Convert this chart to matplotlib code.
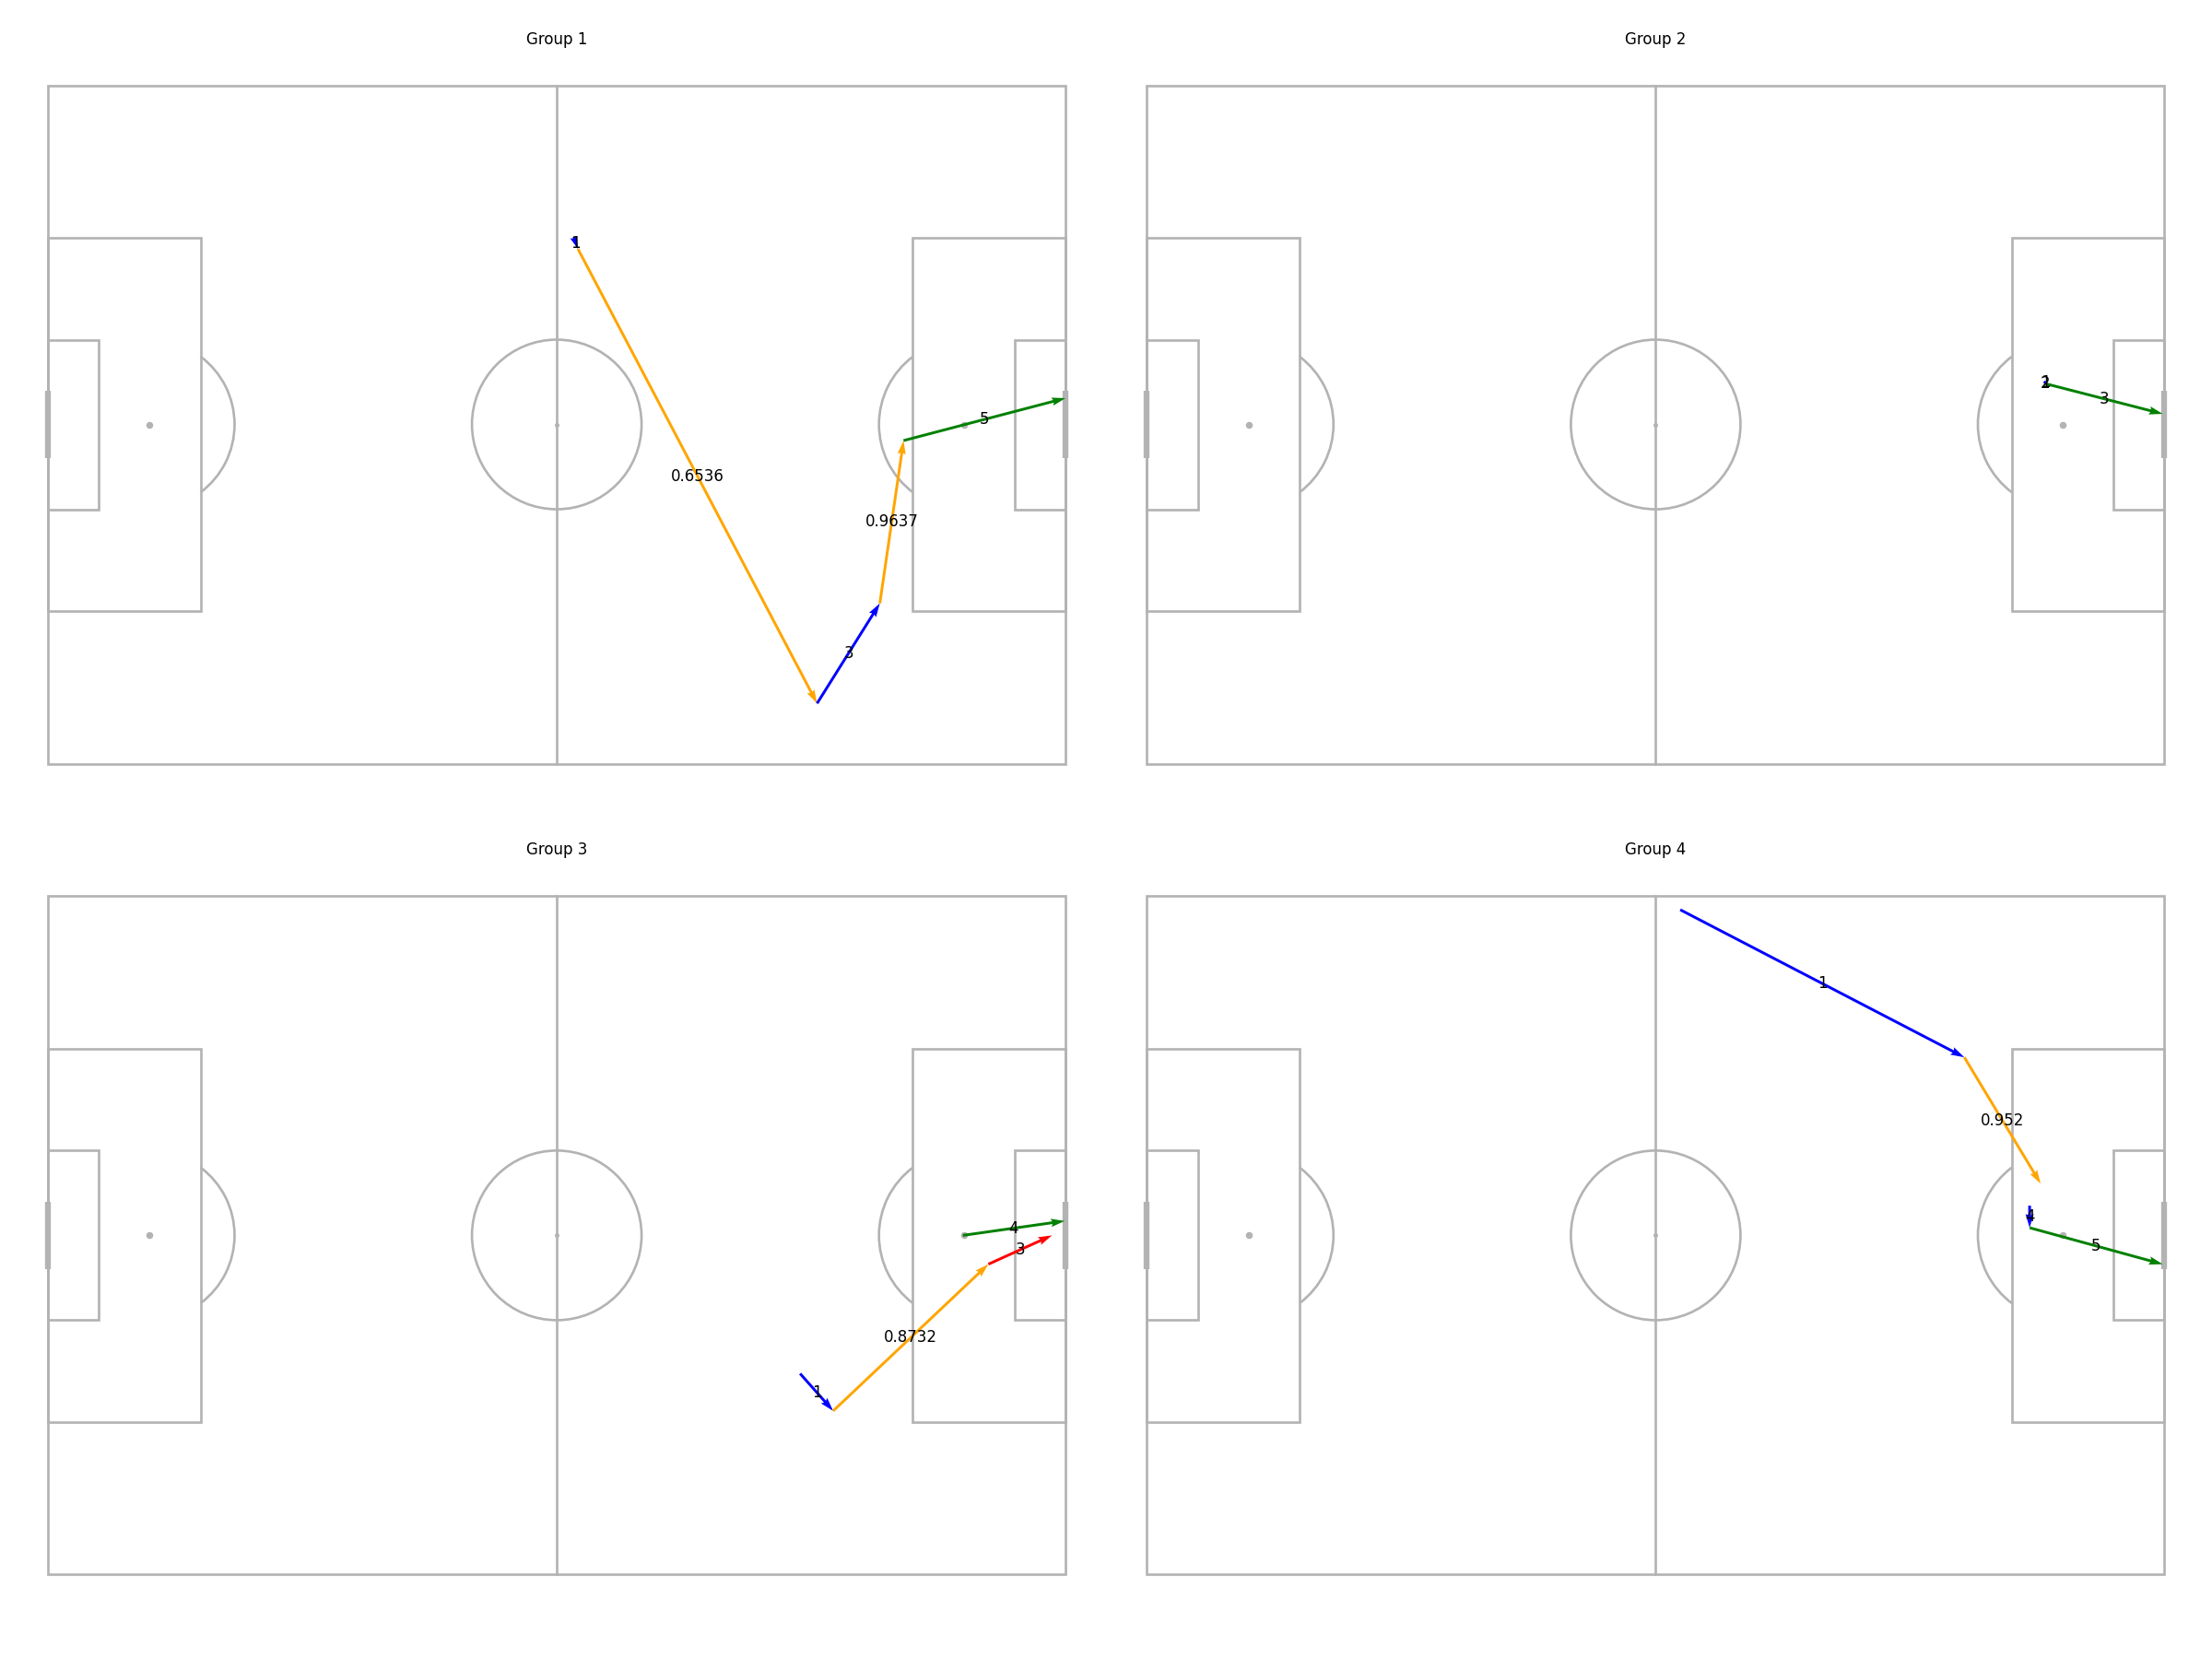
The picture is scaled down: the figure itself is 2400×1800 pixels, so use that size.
import matplotlib.pyplot as plt
from matplotlib.patches import Rectangle, Circle, Arc

# pitch size (statsbomb style, y runs top to bottom)
PITCH_L = 120
PITCH_W = 80
LINE_COLOR = "#b3b3b3"

KIND_COLORS = {"pass": "blue", "carry": "orange", "shot": "green", "dribble": "red"}

# Group 1
g1_start_x = [62.0, 62.5, 90.7, 98.1, 100.9]
g1_start_y = [17.9, 19.3, 72.9, 61.1, 41.9]
g1_end_x = [62.5, 90.7, 98.1, 100.9, 120.0]
g1_end_y = [19.3, 72.9, 61.1, 41.9, 36.9]
g1_kind = ["pass", "carry", "pass", "carry", "shot"]
g1_label = ["1", "0.6536", "3", "0.9637", "5"]

# Group 2
g2_start_x = [105.9, 105.9, 106.0]
g2_start_y = [35.0, 35.1, 35.2]
g2_end_x = [106.0, 106.0, 119.8]
g2_end_y = [35.2, 35.2, 38.75]
g2_kind = ["pass", "pass", "shot"]
g2_label = ["1", "2", "3"]

# Group 3
g3_start_x = [88.7, 92.6, 110.9, 107.9]
g3_start_y = [56.3, 60.7, 43.4, 40.0]
g3_end_x = [92.6, 110.9, 118.4, 119.9]
g3_end_y = [60.7, 43.4, 40.0, 38.3]
g3_kind = ["pass", "carry", "dribble", "shot"]
g3_label = ["1", "0.8732", "3", "4"]

# Group 4
g4_start_x = [62.9, 96.4, 104.1, 104.1]
g4_start_y = [1.6, 19.0, 36.5, 39.1]
g4_end_x = [96.4, 105.4, 104.1, 119.8]
g4_end_y = [19.0, 33.9, 39.1, 43.4]
g4_kind = ["pass", "carry", "pass", "shot"]
g4_label = ["1", "0.952", "4", "5"]

groups = [
    ("Group 1", g1_start_x, g1_start_y, g1_end_x, g1_end_y, g1_kind, g1_label),
    ("Group 2", g2_start_x, g2_start_y, g2_end_x, g2_end_y, g2_kind, g2_label),
    ("Group 3", g3_start_x, g3_start_y, g3_end_x, g3_end_y, g3_kind, g3_label),
    ("Group 4", g4_start_x, g4_start_y, g4_end_x, g4_end_y, g4_kind, g4_label),
]


def draw_pitch(ax):
    kw = dict(fill=False, edgecolor=LINE_COLOR, lw=1.6, clip_on=False, zorder=1)
    ax.add_patch(Rectangle((0, 0), PITCH_L, PITCH_W, **kw))
    ax.plot([60, 60], [0, PITCH_W], color=LINE_COLOR, lw=1.6, zorder=1, clip_on=False)
    ax.add_patch(Circle((60, 40), 10, **kw))
    ax.plot(60, 40, "o", color=LINE_COLOR, ms=2, zorder=1)
    # boxes
    ax.add_patch(Rectangle((0, 18), 18, 44, **kw))
    ax.add_patch(Rectangle((PITCH_L - 18, 18), 18, 44, **kw))
    ax.add_patch(Rectangle((0, 30), 6, 20, **kw))
    ax.add_patch(Rectangle((PITCH_L - 6, 30), 6, 20, **kw))
    # spots and arcs
    ax.plot([12, 108], [40, 40], "o", color=LINE_COLOR, ms=3.5, lw=0, zorder=1)
    ax.add_patch(Arc((12, 40), 20, 20, theta1=-53.13, theta2=53.13,
                     color=LINE_COLOR, lw=1.6, zorder=1))
    ax.add_patch(Arc((108, 40), 20, 20, theta1=126.87, theta2=233.13,
                     color=LINE_COLOR, lw=1.6, zorder=1))
    # goals
    ax.plot([0, 0], [36, 44], color=LINE_COLOR, lw=3.8, zorder=1, clip_on=False,
            solid_capstyle="butt")
    ax.plot([PITCH_L, PITCH_L], [36, 44], color=LINE_COLOR, lw=3.8, zorder=1,
            clip_on=False, solid_capstyle="butt")
    ax.set_xlim(0, PITCH_L)
    ax.set_ylim(PITCH_W, 0)
    ax.axis("off")


fig = plt.figure(figsize=(20, 15), dpi=120)
positions = [
    [0.0217, 0.5397, 0.46, 0.4089],
    [0.5185, 0.5397, 0.46, 0.4089],
    [0.0217, 0.0509, 0.46, 0.4089],
    [0.5185, 0.0509, 0.46, 0.4089],
]

for pos, (title, sx, sy, ex, ey, kinds, labels) in zip(positions, groups):
    ax = fig.add_axes(pos)
    draw_pitch(ax)
    for x0, y0, x1, y1, k, lab in zip(sx, sy, ex, ey, kinds, labels):
        q = ax.quiver(x0, y0, x1 - x0, y1 - y0, color=KIND_COLORS[k],
                      angles="xy", scale_units="xy", scale=1,
                      width=0.0027, headwidth=3, headlength=5,
                      headaxislength=4.5, zorder=3)
        q.set_clip_on(False)
        ax.text((x0 + x1) / 2, (y0 + y1) / 2, lab, fontsize=10,
                ha="center", va="center", zorder=4)
    ax.set_title(title, fontsize=10, pad=27)

fig.savefig("out.png", dpi=120)
